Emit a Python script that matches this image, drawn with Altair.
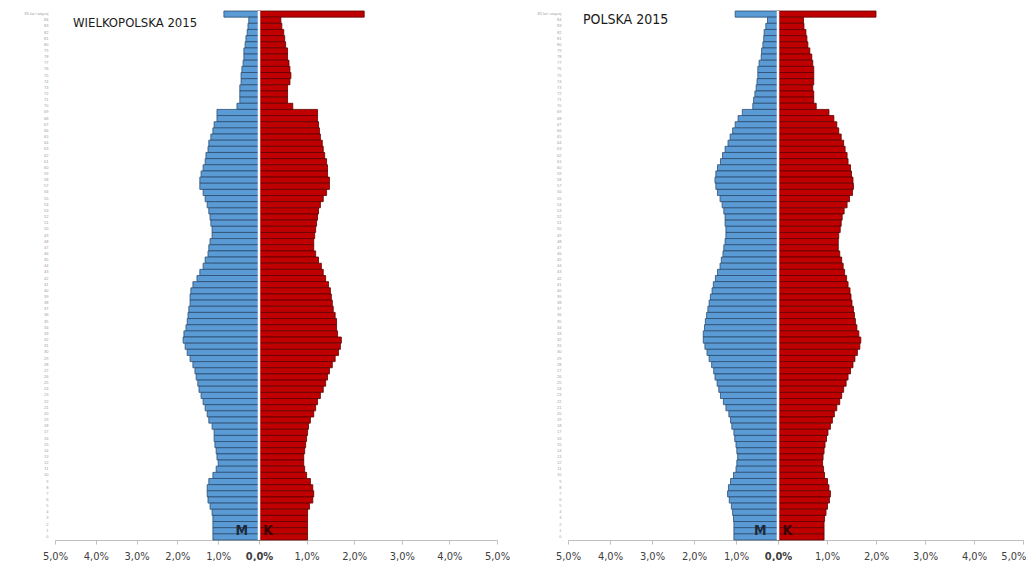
import altair as alt
import pandas as pd

# Age groups, top (85+) to bottom (0)
ages = ["85 lat i więcej"] + [str(a) for a in range(84, -1, -1)]

# Share of population (%) per single year of age, ordered top -> bottom
wlkp_m = [0.86, 0.25, 0.27, 0.29, 0.32, 0.34, 0.37, 0.37, 0.39, 0.42, 0.44, 0.44, 0.47, 0.47, 0.47, 0.54,
          1.03, 1.03, 1.10, 1.13, 1.18, 1.23, 1.25, 1.30, 1.32, 1.37, 1.42, 1.45, 1.45, 1.37, 1.32, 1.27,
          1.23, 1.20, 1.18, 1.15, 1.15, 1.20, 1.23, 1.25, 1.32, 1.37, 1.45, 1.52, 1.62, 1.67, 1.69, 1.69,
          1.72, 1.74, 1.76, 1.79, 1.84, 1.86, 1.81, 1.76, 1.69, 1.62, 1.57, 1.54, 1.50, 1.47, 1.42, 1.37,
          1.32, 1.27, 1.23, 1.15, 1.10, 1.10, 1.08, 1.05, 1.03, 1.00, 1.05, 1.13, 1.23, 1.27, 1.27, 1.25,
          1.20, 1.15, 1.13, 1.13, 1.13, 1.13]
wlkp_k = [2.21, 0.46, 0.48, 0.52, 0.54, 0.56, 0.60, 0.60, 0.63, 0.65, 0.67, 0.65, 0.60, 0.60, 0.60, 0.71,
          1.23, 1.23, 1.25, 1.27, 1.29, 1.33, 1.35, 1.38, 1.42, 1.44, 1.44, 1.48, 1.48, 1.42, 1.35, 1.29,
          1.25, 1.23, 1.21, 1.19, 1.17, 1.15, 1.15, 1.19, 1.25, 1.31, 1.35, 1.40, 1.46, 1.50, 1.52, 1.54,
          1.56, 1.60, 1.63, 1.63, 1.65, 1.73, 1.71, 1.67, 1.60, 1.54, 1.48, 1.44, 1.40, 1.35, 1.29, 1.23,
          1.19, 1.15, 1.08, 1.04, 1.02, 1.00, 0.98, 0.96, 0.94, 0.94, 0.96, 1.00, 1.08, 1.13, 1.15, 1.13,
          1.06, 1.02, 1.02, 1.02, 1.02, 1.02]
pl_m = [1.02, 0.25, 0.29, 0.33, 0.34, 0.36, 0.39, 0.40, 0.45, 0.48, 0.48, 0.50, 0.52, 0.55, 0.58, 0.60,
        0.85, 0.95, 1.02, 1.08, 1.14, 1.19, 1.26, 1.32, 1.37, 1.44, 1.48, 1.50, 1.48, 1.44, 1.38, 1.33,
        1.29, 1.26, 1.26, 1.24, 1.24, 1.26, 1.29, 1.31, 1.35, 1.38, 1.44, 1.49, 1.54, 1.57, 1.61, 1.64,
        1.67, 1.70, 1.73, 1.75, 1.78, 1.78, 1.74, 1.69, 1.64, 1.58, 1.53, 1.50, 1.45, 1.41, 1.37, 1.30,
        1.24, 1.17, 1.13, 1.10, 1.05, 1.03, 1.00, 0.98, 0.96, 0.98, 1.00, 1.06, 1.13, 1.18, 1.20, 1.16,
        1.11, 1.08, 1.06, 1.05, 1.05, 1.05]
pl_k = [2.00, 0.52, 0.53, 0.57, 0.59, 0.61, 0.65, 0.69, 0.71, 0.73, 0.73, 0.73, 0.71, 0.73, 0.73, 0.78,
        1.04, 1.14, 1.20, 1.24, 1.29, 1.34, 1.37, 1.41, 1.43, 1.48, 1.50, 1.53, 1.54, 1.52, 1.46, 1.41,
        1.35, 1.31, 1.29, 1.27, 1.24, 1.23, 1.23, 1.26, 1.30, 1.33, 1.36, 1.40, 1.43, 1.47, 1.49, 1.51,
        1.54, 1.56, 1.58, 1.61, 1.65, 1.69, 1.67, 1.62, 1.57, 1.53, 1.48, 1.43, 1.39, 1.34, 1.30, 1.26,
        1.20, 1.15, 1.11, 1.07, 1.02, 0.99, 0.96, 0.94, 0.92, 0.91, 0.93, 0.95, 1.01, 1.04, 1.07, 1.05,
        1.01, 0.98, 0.95, 0.94, 0.94, 0.94]

x_ticks = [-5, -4, -3, -2, -1, 0, 1, 2, 3, 4, 5]
sex_labels = ["M", "K"]
sex_label_x = [-0.42, 0.19]
sex_label_age = ["1", "1"]

NARROW = "Liberation Sans Narrow, DejaVu Sans Condensed, Roboto Condensed, Liberation Sans, sans-serif"
PLOT_H = 529


def panel(title, males, females, w_left, w_right, tdx, tdy, tsize, last_right):
    rows = []
    for a, m, k in zip(ages, males, females):
        rows.append({"age": a, "sex": "M", "value": -m})
        rows.append({"age": a, "sex": "K", "value": k})
    df = pd.DataFrame(rows)
    xs = alt.Scale(domain=[-5, 0, 5], range=[0, w_left, w_left + w_right], nice=False, zero=False)

    align = {"condition": {"test": "datum.value == 5", "value": "right"}, "value": "center"} if last_right else "center"
    offset = {"condition": {"test": "datum.value == 5", "value": 3}, "value": 0} if last_right else 0

    bars = alt.Chart(df).mark_bar(strokeWidth=0.8).encode(
        y=alt.Y("age:N", sort=ages,
                scale=alt.Scale(paddingInner=0, paddingOuter=0),
                axis=alt.Axis(title=None, labelFontSize=4, labelColor="#a0a0a0", domain=False,
                              ticks=False, labelPadding=7, minExtent=46, maxExtent=46,
                              labelFont="Liberation Sans")),
        x=alt.X("value:Q", scale=xs,
                axis=alt.Axis(title=None, values=x_ticks, grid=False, labelFlush=False, labelOverlap=False,
                              labelExpr="replace(format(abs(datum.value), '.1f'), '.', ',') + '%'",
                              labelFont=NARROW, labelFontSize=11, labelColor="#404040",
                              labelFontWeight={"condition": {"test": "datum.value == 0", "value": "bold"},
                                               "value": "normal"},
                              labelAlign=align, labelOffset=offset,
                              domainColor="#bfbfbf", tickColor="#bfbfbf", tickSize=4, labelPadding=6)),
        x2=alt.X2(datum=0),
        color=alt.Color("sex:N", scale=alt.Scale(domain=["M", "K"], range=["#5B9BD5", "#C00000"]), legend=None),
        stroke=alt.Stroke("sex:N", scale=alt.Scale(domain=["M", "K"], range=["#2C4D70", "#5E0000"]), legend=None),
    )

    zero = alt.Chart(pd.DataFrame({"z": [0]})).mark_rule(color="white", strokeWidth=2.5).encode(x="z:Q")

    lbl = alt.Chart(pd.DataFrame({"label": sex_labels, "x": sex_label_x, "age": sex_label_age})).mark_text(
        fontWeight="bold", fontSize=14, font=NARROW, baseline="middle"
    ).encode(
        x="x:Q", y=alt.Y("age:N", sort=ages), text="label:N",
        color=alt.condition("datum.label == 'M'", alt.value("#1b2838"), alt.value("#3a0000")),
    )

    ttl = alt.Chart(pd.DataFrame({"t": [title]})).mark_text(
        align="left", baseline="middle", fontSize=tsize, font=NARROW, color="#1a1a1a"
    ).encode(text="t:N", x=alt.value(tdx), y=alt.value(tdy))

    return alt.layer(bars, zero, lbl, ttl).properties(width=w_left + w_right, height=PLOT_H)


left = panel("WIELKOPOLSKA 2015", wlkp_m, wlkp_k, 204, 238, 18, 12, 13, False)
right = panel("POLSKA 2015", pl_m, pl_k, 210, 245, 15, 9, 14, True)

chart = alt.hconcat(left, right, spacing=12).properties(
    padding={"left": 1, "top": 1, "right": 0, "bottom": 0}
).configure_view(stroke=None)

chart.save("out.html", embed_options={"renderer": "svg", "actions": False})
